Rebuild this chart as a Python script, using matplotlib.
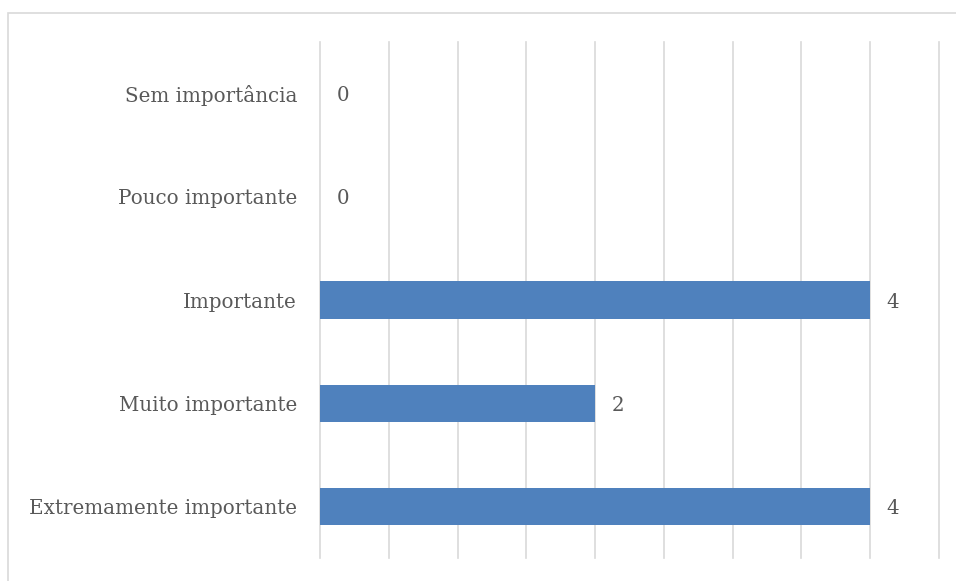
import matplotlib.pyplot as plt
from matplotlib.patches import Rectangle

# data (top to bottom as shown)
categories = ["Sem importância", "Pouco importante", "Importante",
              "Muito importante", "Extremamente importante"]
values = [0, 0, 4, 2, 4]

bar_color = '#4f81bd'
text_color = '#595959'
grid_color = '#d9d9d9'

plt.rcParams['font.family'] = ['DejaVu Serif']

fig = plt.figure(figsize=(9.56, 5.81), dpi=100)
# light frame around the chart area
fig.patches.append(Rectangle((8 / 956, -0.05), 1.1, 1 - 13 / 581 + 0.05,
                             transform=fig.transFigure, fill=False,
                             edgecolor='#d9d9d9', linewidth=1.2))

ax = fig.add_axes([320 / 956, 1 - 558 / 581, 619 / 956, 516 / 581])

y = list(range(len(categories)))
ax.barh(y, values, height=0.36, color=bar_color, linewidth=0, zorder=3)

for yi, v in zip(y, values):
    ax.text(v + 0.12, yi + 0.02, str(v), va='center', ha='left',
            fontsize=14.3, color=text_color)

ax.set_xlim(0, 4.5)
ax.set_ylim(len(categories) - 0.5, -0.5)
ax.set_xticks([i * 0.5 for i in range(10)])
ax.set_xticklabels([])
ax.tick_params(axis='x', length=0)
ax.set_yticks(y)
ax.set_yticklabels(categories, fontsize=14.3, color=text_color)
ax.tick_params(axis='y', length=0, pad=16.5)
ax.grid(axis='x', color=grid_color, linewidth=1.2, zorder=0)
for gl in ax.get_xgridlines():
    gl.set_clip_on(False)
for s in ax.spines.values():
    s.set_visible(False)

fig.savefig('out.png', dpi=100)
